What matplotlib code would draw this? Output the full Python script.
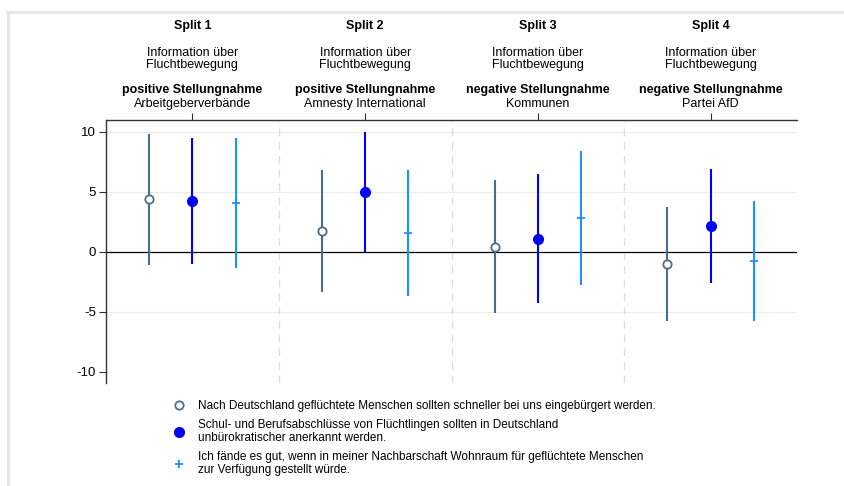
import numpy as np
import matplotlib
matplotlib.use('Agg')
import matplotlib.pyplot as plt
import matplotlib.transforms as mtrans
from matplotlib.lines import Line2D

plt.rcParams['font.family'] = ['Liberation Sans', 'DejaVu Sans']
plt.rcParams['axes.unicode_minus'] = False

# header texts
splits = ['Split 1', 'Split 2', 'Split 3', 'Split 4']
info = ['Information über', 'Fluchtbewegung']
stance = ['positive Stellungnahme', 'positive Stellungnahme',
          'negative Stellungnahme', 'negative Stellungnahme']
actors = ['Arbeitgeberverbände', 'Amnesty International', 'Kommunen', 'Partei AfD']

# legend labels
items = ['Nach Deutschland geflüchtete Menschen sollten schneller bei uns eingebürgert werden.',
         'Schul- und Berufsabschlüsse von Flüchtlingen sollten in Deutschland\nunbürokratischer anerkannt werden.',
         'Ich fände es gut, wenn in meiner Nachbarschaft Wohnraum für geflüchtete Menschen\nzur Verfügung gestellt würde.']

# estimates and confidence bounds (per split)
est_a = [4.39, 1.78, 0.44, -1.00]
lo_a = [-1.08, -3.33, -5.11, -5.78]
hi_a = [9.83, 6.83, 6.00, 3.78]

est_b = [4.28, 5.03, 1.11, 2.14]
lo_b = [-0.97, 0.03, -4.28, -2.61]
hi_b = [9.53, 10.00, 6.50, 6.89]

est_c = [4.11, 1.58, 2.83, -0.75]
lo_c = [-1.36, -3.64, -2.78, -5.72]
hi_c = [9.53, 6.83, 8.44, 4.25]

yticks = [10, 5, 0, -5, -10]
ylabels = ['10', '5', '0', '-5', '-10']

col_a = '#4c6d88'
col_b = '#0000ff'
col_c = '#1e90ff'

W, H = 844, 486
fig = plt.figure(figsize=(W / 100, H / 100), dpi=100)
ax = fig.add_axes([106 / W, 1 - 383 / H, (797 - 106) / W, (383 - 120) / H])

groups = np.arange(1, 5)
off = 0.25

# grid
for y in [10, 5, -5]:
    ax.axhline(y, color='#ececec', lw=0.8, zorder=0)
for xv in [1.5, 2.5, 3.5]:
    ax.axvline(xv, color='#dcdcdc', lw=0.9, ls=(0, (6, 5)), zorder=0)
ax.axhline(0, color='black', lw=0.9, zorder=1)

def draw(xs, est, lo, hi, col, **mk):
    ax.vlines(xs, lo, hi, color=col, lw=1.5, zorder=2)
    ax.plot(xs, est, ls='none', zorder=3, **mk)

draw(groups - off, est_a, lo_a, hi_a, col_a, marker='o', ms=6, mfc='white', mec=col_a, mew=1.3)
draw(groups, est_b, lo_b, hi_b, col_b, marker='o', ms=7, mfc=col_b, mec=col_b)
draw(groups + off, est_c, lo_c, hi_c, col_c, marker='+', ms=6, mec=col_c, mew=1.3)

ax.set_xlim(0.5, 4.5)
ax.set_ylim(-10.92, 11.0)
ax.set_yticks(yticks)
ax.set_yticklabels(ylabels)
ax.xaxis.tick_top()
ax.set_xticks(groups)
ax.set_xticklabels([])
ax.tick_params(axis='x', direction='out', length=5, width=0.8, color='#333333')
ax.tick_params(axis='y', direction='out', length=4.7, width=0.8, color='#333333',
               labelsize=9.5, pad=2.4)
for s in ['right', 'bottom']:
    ax.spines[s].set_visible(False)
for s in ['left', 'top']:
    ax.spines[s].set_color('#333333')
    ax.spines[s].set_linewidth(1.0)

# header
tr = mtrans.blended_transform_factory(ax.transData, fig.transFigure)
for i, g in enumerate(groups):
    ax.text(g, 1 - 26 / H, splits[i], transform=tr, ha='center', va='center',
            fontsize=9, fontweight='bold')
    ax.text(g, 1 - 52.5 / H, info[0], transform=tr, ha='center', va='center', fontsize=9)
    ax.text(g, 1 - 65 / H, info[1], transform=tr, ha='center', va='center', fontsize=9)
    ax.text(g, 1 - 90.5 / H, stance[i], transform=tr, ha='center', va='center',
            fontsize=9, fontweight='bold')
    ax.text(g, 1 - 103.5 / H, actors[i], transform=tr, ha='center', va='center', fontsize=9)

# legend
handles = [Line2D([], [], ls='none', marker='o', ms=6, mfc='white', mec=col_a, mew=1.3),
           Line2D([], [], ls='none', marker='o', ms=7, mfc=col_b, mec=col_b),
           Line2D([], [], ls='none', marker='+', ms=6, mec=col_c, mew=1.3)]
leg = fig.legend(handles, items, loc='upper left', bbox_to_anchor=(173 / W, 1 - 400 / H),
                 frameon=False, fontsize=8.5, handlelength=1.05, handletextpad=1.1,
                 labelspacing=0.6, borderpad=0, borderaxespad=0)
for t in leg.get_texts():
    t.set_linespacing(1.1)

# outer frame
fig.add_artist(Line2D([7 / W, 1], [1 - 12 / H] * 2, transform=fig.transFigure,
                      color='#e6e6e6', lw=2))
fig.add_artist(Line2D([8 / W] * 2, [1 - 12 / H, 0], transform=fig.transFigure,
                      color='#e6e6e6', lw=2))

fig.savefig('out.png', dpi=100)
